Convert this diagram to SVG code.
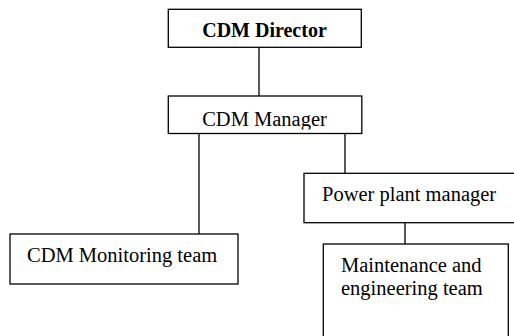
<svg xmlns="http://www.w3.org/2000/svg" width="514" height="336" viewBox="0 0 514 336">
<style>
.box{fill:#fff;stroke:#000;stroke-width:1.3}
.t{font-family:"Liberation Serif","Times New Roman",serif;font-size:20.5px;fill:#000}
.b{font-weight:bold;font-size:20px}
.c{stroke:#000;stroke-width:1.3;fill:none}
</style>
<defs>
<clipPath id="mclip"><rect x="168" y="96" width="194" height="33.5"/></clipPath>
</defs>
<rect width="514" height="336" fill="#fff"/>
<g id="connectors">
<line class="c" x1="259" y1="47.3" x2="259" y2="96"/>
<line class="c" x1="199" y1="133.5" x2="199" y2="234"/>
<line class="c" x1="345" y1="133.5" x2="345" y2="173.3"/>
<line class="c" x1="405" y1="222.7" x2="405" y2="244"/>
</g>
<g id="director">
<rect class="box" x="168.3" y="9.3" width="193" height="38"/>
<text class="t b" x="264.5" y="37" text-anchor="middle">CDM Director</text>
</g>
<g id="manager">
<rect class="box" x="168.3" y="96" width="193.5" height="37.5"/>
<text class="t" x="264.5" y="126" text-anchor="middle" clip-path="url(#mclip)">CDM Manager</text>
</g>
<g id="monitoring">
<rect class="box" x="10" y="234" width="228" height="50"/>
<text class="t" x="27" y="262">CDM Monitoring team</text>
</g>
<g id="powerplant">
<rect class="box" x="304" y="173.3" width="220" height="49.4"/>
<text class="t" x="322" y="201">Power plant manager</text>
</g>
<g id="maintenance">
<rect class="box" x="323.3" y="244" width="185" height="110"/>
<text class="t" x="341" y="272">Maintenance and</text>
<text class="t" x="341" y="295">engineering team</text>
</g>
</svg>
